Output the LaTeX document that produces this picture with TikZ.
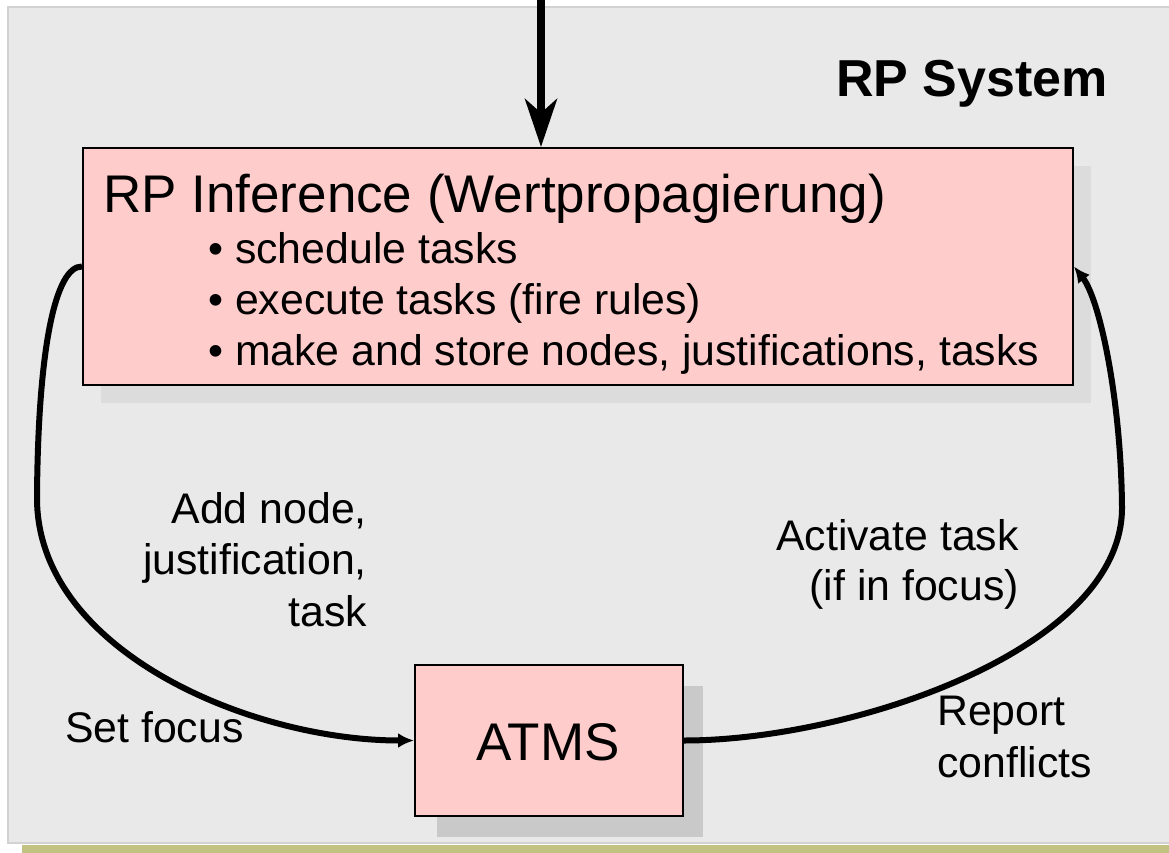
\documentclass[tikz,border=0pt]{standalone}
\usepackage{fontspec}
\setmainfont{Liberation Sans}
\usetikzlibrary{arrows.meta}
\definecolor{panelfill}{HTML}{E9E9E9}
\definecolor{panelline}{HTML}{D2D2D2}
\definecolor{olive}{HTML}{C2C283}
\definecolor{boxfill}{HTML}{FFCCCC}
\definecolor{shadowlight}{HTML}{DCDCDC}
\definecolor{shadowdark}{HTML}{C9C9C9}
\tikzset{
  boxstyle/.style={draw=black, line width=2pt, fill=boxfill, inner sep=0pt, rectangle},
  bigtext/.style={inner sep=0pt, font=\fontsize{53}{60}\selectfont},
  midtext/.style={inner sep=0pt, font=\fontsize{42.8}{50}\selectfont},
  conn/.style={line width=6pt, -{Latex[length=16pt,width=15pt]}},
}
\begin{document}
\begin{tikzpicture}[x=1pt,y=-1pt]
\useasboundingbox (0,0) rectangle (1169,853);
% background panel and bottom strip
\fill[olive] (22,845) rectangle (1169,853);
\draw[panelline, fill=panelfill, line width=2pt] (8,7) rectangle (1180,843);
% shadows
\fill[shadowlight] (101,166) rectangle (1091,403);
\fill[shadowdark] (437,686) rectangle (703,837);
% boxes
\node[boxstyle, minimum width=990pt, minimum height=237pt] (rp) at (578,266.5) {};
\node[boxstyle, minimum width=268pt, minimum height=151pt] (atms) at (549,740.5) {};
% texts
\node[bigtext, anchor=base west] (rptitle) at (103,212) {RP Inference (Wertpropagierung)};
\node[midtext, anchor=base west] (b1) at (208,263) {• schedule tasks};
\node[midtext, anchor=base west] (b2) at (208,314) {• execute tasks (fire rules)};
\node[midtext, anchor=base west] (b3) at (208,365) {• make and store nodes, justifications, tasks};
\node[bigtext, anchor=base] (atmstext) at (548,760) {ATMS};
\node[inner sep=0pt, anchor=base east, font=\fontsize{52}{60}\selectfont\bfseries] (sys) at (1108,97) {RP System};
\node[midtext, anchor=base east] (l1a) at (367,523) {Add node,};
\node[midtext, anchor=base east] (l1b) at (367,574) {justification,};
\node[midtext, anchor=base east] (l1c) at (367,626) {task};
\node[midtext, anchor=base east] (l2a) at (1019,550) {Activate task};
\node[midtext, anchor=base east] (l2b) at (1019,600) {(if in focus)};
\node[midtext, anchor=base west] (l3) at (65,742) {Set focus};
\node[midtext, anchor=base west] (l4a) at (937,725) {Report};
\node[midtext, anchor=base west] (l4b) at (937,777) {conflicts};
% connectors
\coordinate (topin) at (541,-2);
\draw[line width=7.5pt, -{Stealth[length=48pt,width=32pt,inset=14pt]}] (topin) -- (rp.north -| topin);
\draw[conn] (rp.west) .. controls (55,266) and (38,350) .. (37,497)
  .. controls (36,650) and (250,740.5) .. (atms.west);
\draw[conn] (atms.east) .. controls (850,740.5) and (1123,650) .. (1122,507)
  .. controls (1121,400) and (1100,300) .. (rp.east);
\end{tikzpicture}
\end{document}
